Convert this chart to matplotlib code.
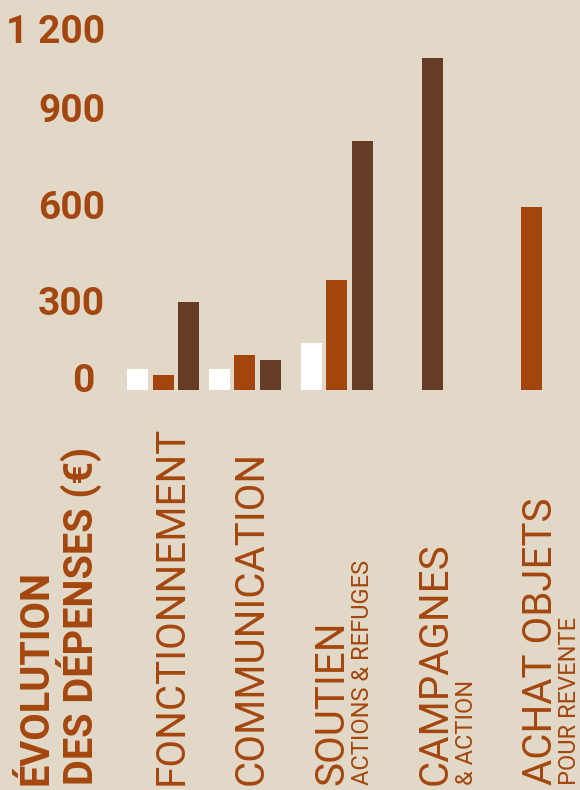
import matplotlib
matplotlib.use('Agg')
import matplotlib.pyplot as plt
from matplotlib.transforms import ScaledTranslation

# ---------------- data ----------------
categories = ['FONCTIONNEMENT', 'COMMUNICATION', 'SOUTIEN', 'CAMPAGNES', 'ACHAT OBJETS']
subtitles = ['', '', 'ACTIONS & REFUGES', '& ACTION', 'POUR REVENTE']
series_white = [70, 70, 155, 0, 0]
series_orange = [50, 115, 360, 0, 600]
series_dark = [290, 100, 815, 1090, 0]
yticks = [0, 300, 600, 900, 1200]
ytick_labels = ['0', '300', '600', '900', '1 200']
title_lines = ['ÉVOLUTION', 'DES DÉPENSES (€)']

# ---------------- style / layout ----------------
W, H, DPI = 580, 790, 100
BG = '#e1d8c7'
WHITE = '#ffffff'
ORANGE = '#a3450c'
DARK = '#673c25'
TEXT = '#a4470e'

STEP = 25.5            # px between bars of a group
AX_LEFT = 115          # px
BASE = 400             # px from bottom (baseline of bars)
group_x = [1.90, 5.08, 8.69, 11.45, 16.33]   # group centres in bar-step units
bar_w = 0.824
main_base_px = [183, 263, 343, 447, 552]
sub_base_px = [None, None, 369, 473, 576]
title_base_px = [47, 93]
tick_offsets_px = [(-10, 12), (0, -2), (0, 3), (0, 8), (0, -4)]

fig = plt.figure(figsize=(W / DPI, H / DPI), dpi=DPI, facecolor=BG)
ax = fig.add_axes([AX_LEFT / W, BASE / H, (W - AX_LEFT) / W, (H - BASE) / H])
ax.set_facecolor(BG)

for vals, col, off in [(series_white, WHITE, -1), (series_orange, ORANGE, 0), (series_dark, DARK, 1)]:
    xs = [g + off for g in group_x]
    ax.bar(xs, vals, width=bar_w, color=col, linewidth=0)

ax.set_xlim(0, (W - AX_LEFT) / STEP)
ax.set_ylim(0, 1279)
for s in ax.spines.values():
    s.set_visible(False)
ax.set_xticks([])
ax.set_yticks(yticks, ytick_labels)
ax.tick_params(axis='y', length=0, pad=7.2, labelsize=28, labelcolor=TEXT)
for lab, (dx, dy) in zip(ax.get_yticklabels(), tick_offsets_px):
    lab.set_fontfamily('Roboto')
    lab.set_fontweight('bold')
    lab.set_transform(lab.get_transform() + ScaledTranslation(dx / DPI, dy / DPI, fig.dpi_scale_trans))

def vtext(xpx, s, size, weight='normal'):
    fig.text(xpx / W, 5 / H, s, rotation=90, rotation_mode='anchor', ha='left', va='baseline',
             fontsize=size, color=TEXT, family='Roboto', fontweight=weight)

for xp, s in zip(title_base_px, title_lines):
    vtext(xp, s, 28.6, 'bold')
for xp, s in zip(main_base_px, categories):
    vtext(xp, s, 29)
for xp, s in zip(sub_base_px, subtitles):
    if xp is not None and s:
        vtext(xp, s, 17)

fig.savefig('out.png', dpi=DPI, facecolor=BG)
